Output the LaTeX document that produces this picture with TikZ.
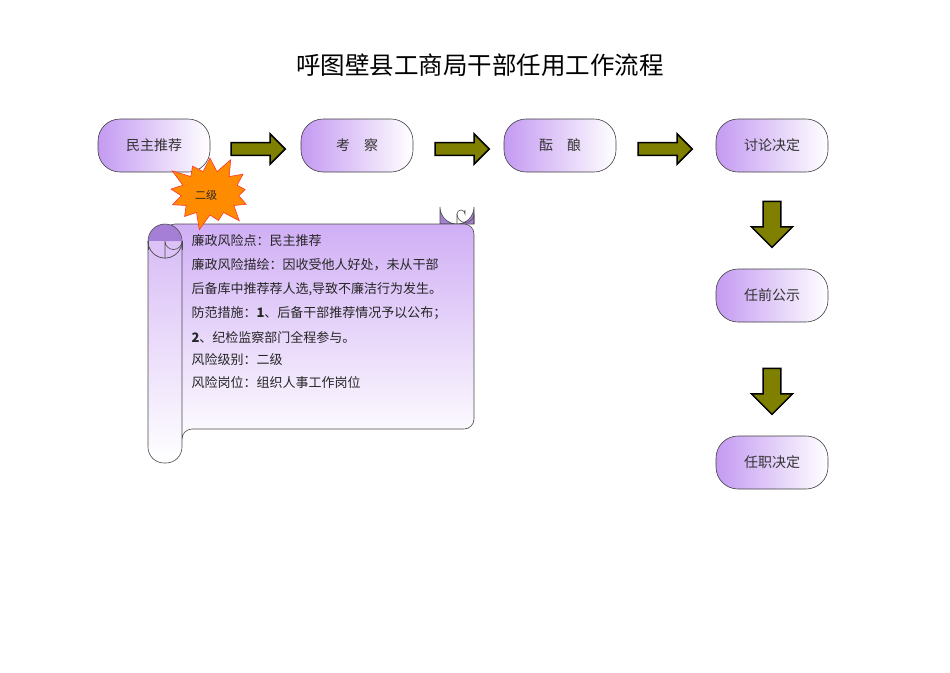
\documentclass[tikz,border=0pt]{standalone}
\usepackage{fontspec}
\setmainfont{Noto Sans CJK SC}
\usetikzlibrary{shapes.geometric,shapes.misc,shapes.symbols,shapes.arrows}
\definecolor{lav}{HTML}{C49AF2}
\definecolor{curl}{HTML}{A57FD6}
\definecolor{olive}{HTML}{7F7F00}
\tikzset{
  stepbox/.style={rectangle,rounded corners=22pt,draw=black!75,line width=0.6pt,minimum width=112pt,minimum height=53pt,
    shading angle=135,left color=lav,right color=white,font=\fontsize{14}{16}\selectfont,text=black!80},
  harrow/.style={single arrow,draw=black,line width=1.5pt,fill=olive,minimum height=54pt,minimum width=30pt,
    single arrow head extend=1pt,inner sep=0pt,single arrow tip angle=90},
  varrow/.style={harrow,shape border rotate=270,minimum height=46pt,minimum width=41pt},
  scrolltxt/.style={anchor=west,font=\fontsize{13}{15}\selectfont,text=black!85},
  sline/.style={draw=black!70,line width=0.6pt},
}
\begin{document}
\begin{tikzpicture}[x=1pt,y=-1pt]
\useasboundingbox (0,0) rectangle (950,672);
\node (title) at (480,65) {\fontsize{24.5}{28}\selectfont 呼图壁县工商局干部任用工作流程};
\node[stepbox] (a) at (154,145.5) {民主推荐};
\node[stepbox] (b) at (357,145.5) {考\quad 察};
\node[stepbox] (c) at (560,145.5) {酝\quad 酿};
\node[stepbox] (d) at (772,145.5) {讨论决定};
\node[stepbox] (e) at (772,295.5) {任前公示};
\node[stepbox] (f) at (772,462.5) {任职决定};
\node[harrow] (ab) at (255,149) {};
\node[harrow] (bc) at (459,149) {};
\node[harrow] (cd) at (662,149) {};
\node[varrow] (de) at (772,220) {};
\node[varrow] (ef) at (772,387) {};
% scroll: top-right curl
\fill[curl,sline] (440,224) -- (440,207) arc[start angle=180,end angle=0,radius=17] -- (474,224) -- cycle;
% scroll body
\shade[top color=lav!80,bottom color=white,sline,rounded corners=10pt]
  (165,224) -- (474,224) -- (474,429) -- (182,429) -- (182,445) -- (165,445) -- cycle;
\draw[sline] (457,224) -- (457,214) arc[start angle=180,end angle=360,radius=4] -- (465,210);
\draw[sline] (457,214) arc[start angle=180,end angle=0,radius=8.5] -- (474,224);
% left tube
\shade[top color=lav!65,bottom color=white,sline,rounded corners=16pt]
  (148,241) -- (148,463) -- (182,463) -- (182,241);
\fill[curl,sline] (148,241) arc[start angle=180,end angle=360,radius=17] arc[start angle=0,end angle=180,radius=17];
\fill[lav!60] (148,241) arc[start angle=180,end angle=0,radius=17] -- cycle;
\draw[sline] (148,241) arc[start angle=180,end angle=0,radius=17];
\fill[curl] (165,241) arc[start angle=180,end angle=360,radius=8.5] -- cycle;
\draw[sline] (148,241) -- (148,250) (182,241) -- (182,250);
\draw[sline] (165,258) -- (165,241) arc[start angle=180,end angle=0,radius=8.5] -- (182,248);
% star
\node[starburst,starburst points=13,starburst point height=18pt,fill=orange!90!yellow,draw=red!80,line width=0.6pt,
  minimum width=94pt,minimum height=80pt,inner sep=0pt] (star) at (210,193) {};
\node[font=\fontsize{11}{13}\selectfont,text=black!85] (starlbl) at (206,195) {二级};
\node[scrolltxt] (t1) at (188,241) {廉政风险点：民主推荐};
\node[scrolltxt] (t2) at (188,265) {廉政风险描绘：因收受他人好处，未从干部};
\node[scrolltxt] (t3) at (188,289) {后备库中推荐荐人选,导致不廉洁行为发生。};
\node[scrolltxt] (t4) at (188,313) {防范措施：\textbf{1}、后备干部推荐情况予以公布；};
\node[scrolltxt] (t5) at (188,337) {\textbf{2}、纪检监察部门全程参与。};
\node[scrolltxt] (t6) at (188,360) {风险级别：二级};
\node[scrolltxt] (t7) at (188,383) {风险岗位：组织人事工作岗位};
\end{tikzpicture}
\end{document}
